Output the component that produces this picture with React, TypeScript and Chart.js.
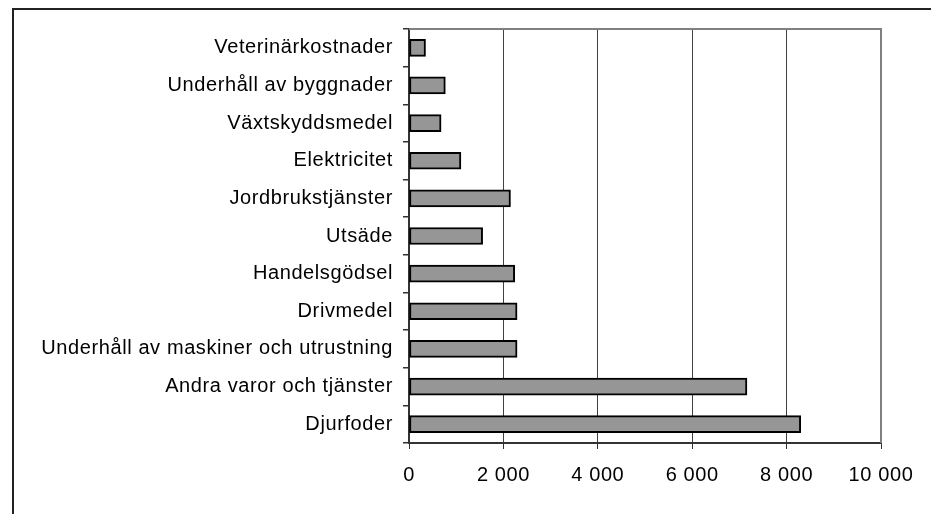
import React, { useEffect, useRef } from "react";
import { Chart, registerables } from "chart.js";

Chart.register(...registerables);

const categories = [
  "Veterinärkostnader",
  "Underhåll av byggnader",
  "Växtskyddsmedel",
  "Elektricitet",
  "Jordbrukstjänster",
  "Utsäde",
  "Handelsgödsel",
  "Drivmedel",
  "Underhåll av maskiner och utrustning",
  "Andra varor och tjänster",
  "Djurfoder",
];

const values = [350, 770, 680, 1100, 2150, 1560, 2240, 2290, 2290, 7160, 8300];

const xTickValues = [0, 2000, 4000, 6000, 8000, 10000];
const xTickLabels = ["0", "2 000", "4 000", "6 000", "8 000", "10 000"];

const FONT = "'Liberation Sans', Arial, sans-serif";
const SPACING = "0.6px";

const spacingPlugin = {
  id: "letterSpacing",
  beforeUpdate(chart: any) {
    chart.ctx.letterSpacing = SPACING;
  },
  beforeLayout(chart: any) {
    chart.ctx.letterSpacing = SPACING;
  },
  beforeDraw(chart: any) {
    chart.ctx.letterSpacing = SPACING;
  },
};

const framePlugin = {
  id: "frames",
  afterDraw(chart: any) {
    const { ctx, chartArea } = chart;
    ctx.save();
    ctx.strokeStyle = "#808080";
    ctx.lineWidth = 2;
    ctx.beginPath();
    ctx.moveTo(chartArea.left, chartArea.top);
    ctx.lineTo(chartArea.right, chartArea.top);
    ctx.lineTo(chartArea.right, chartArea.bottom);
    ctx.stroke();
    ctx.strokeStyle = "#222";
    ctx.lineWidth = 2;
    ctx.beginPath();
    ctx.moveTo(13, 600);
    ctx.lineTo(13, 9);
    ctx.lineTo(1000, 9);
    ctx.stroke();
    ctx.restore();
  },
};

export default function App() {
  const ref = useRef<HTMLCanvasElement | null>(null);

  useEffect(() => {
    if (!ref.current) return;
    const chart = new Chart(ref.current, {
      type: "bar",
      data: {
        labels: categories,
        datasets: [
          {
            data: values,
            backgroundColor: "#969696",
            borderColor: "#000",
            borderWidth: 2,
            borderSkipped: false,
            barThickness: 17,
          },
        ],
      },
      options: {
        indexAxis: "y",
        animation: false,
        responsive: false,
        devicePixelRatio: 1,
        layout: { padding: { top: 29, right: 50, bottom: 0, left: 0 } },
        plugins: {
          legend: { display: false },
          tooltip: { enabled: false },
        },
        scales: {
          x: {
            type: "linear",
            min: 0,
            max: 10000,
            afterFit: (s: any) => {
              s.height = 71;
            },
            afterBuildTicks: (s: any) => {
              s.ticks = xTickValues.map((v) => ({ value: v }));
            },
            border: { display: true, color: "#333", width: 2 },
            grid: {
              drawOnChartArea: true,
              color: (c: any) =>
                c.tick && (c.tick.value === 0 || c.tick.value === 10000)
                  ? "rgba(0,0,0,0)"
                  : "#404040",
              lineWidth: 1,
              tickColor: "#333",
              tickLength: 6,
            },
            ticks: {
              color: "#000",
              padding: 14,
              font: { family: FONT, size: 20 },
              maxRotation: 0,
              autoSkip: false,
              callback: (v: any, i: number) => xTickLabels[i],
            },
          },
          y: {
            type: "category",
            afterFit: (s: any) => {
              s.width = 409;
            },
            border: { display: true, color: "#333", width: 2 },
            grid: {
              offset: true,
              drawOnChartArea: false,
              drawTicks: true,
              tickLength: 6,
              tickColor: "#333",
              lineWidth: 1.5,
            },
            ticks: {
              color: "#000",
              padding: 10,
              font: { family: FONT, size: 20 },
              autoSkip: false,
            },
          },
        },
      },
      plugins: [spacingPlugin, framePlugin],
    } as any);
    return () => chart.destroy();
  }, []);

  return (
    <div
      style={{
        position: "fixed",
        left: 0,
        top: 0,
        width: 931,
        height: 514,
        background: "#fff",
      }}
    >
      <canvas ref={ref} width={931} height={514} style={{ display: "block" }} />
    </div>
  );
}
